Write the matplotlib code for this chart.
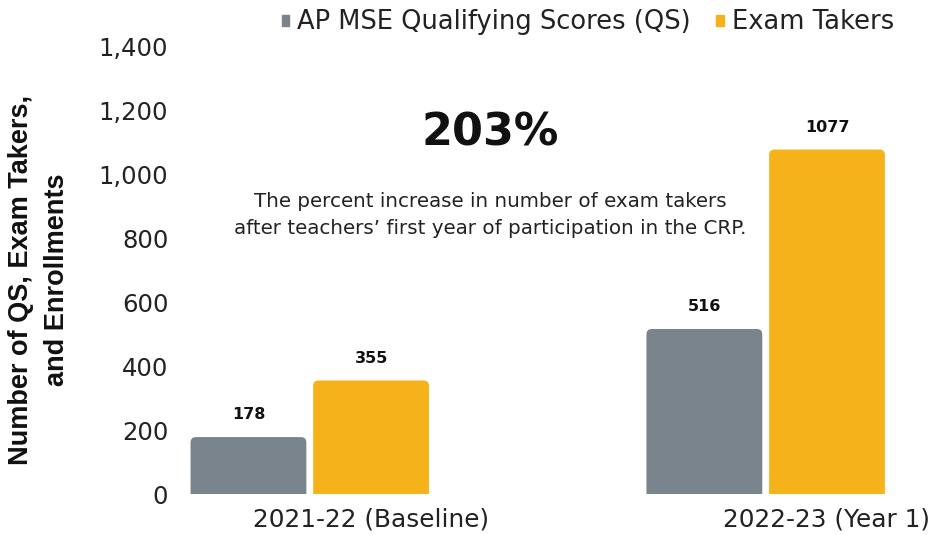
import matplotlib.pyplot as plt
from matplotlib.patches import FancyBboxPatch, Patch
import numpy as np

# data
categories = ["2021-22 (Baseline)", "2022-23 (Year 1)"]
series_names = ["AP MSE Qualifying Scores (QS)", "Exam Takers"]
qs_values = [178, 516]
taker_values = [355, 1077]
y_ticks = [0, 200, 400, 600, 800, 1000, 1200, 1400]

GRAY = "#7a848c"
YELLOW = "#f6b21a"
TEXT = "#222222"

fig = plt.figure(figsize=(9.3, 5.35), dpi=100)
ax = fig.add_axes([0.1914, 0.0766, 0.803, 0.837])
ax.set_xlim(-0.289, 1.349)
ax.set_ylim(0, 1400)

x = np.arange(len(categories))
w = 0.254
gap = 0.015
x_gray = x - w / 2 - gap / 2
x_yel = x + w / 2 + gap / 2

# rounded top corners: radius in x units, aspect converts to y units
r = 0.012
aspect = (1400 / 448.0) / (1 / 456.0)
for xs, vals, col in [(x_gray, qs_values, GRAY), (x_yel, taker_values, YELLOW)]:
    for xi, v in zip(xs, vals):
        p = FancyBboxPatch((xi - w / 2, -40), w, v + 40,
                           boxstyle=f"round,pad=0,rounding_size={r}",
                           mutation_aspect=aspect, fc=col, ec="none")
        ax.add_patch(p)
        ax.annotate(f"{v}", (xi, v), xytext=(0, 16), textcoords="offset points",
                    ha="center", va="center", fontsize=11.5, fontweight="bold",
                    color="#111111")

ax.set_yticks(y_ticks)
ax.set_yticklabels([f"{t:,}" for t in y_ticks], fontsize=17.5, color=TEXT)
ax.set_xticks(x_yel)
ax.set_xticklabels(categories, fontsize=17.8, color=TEXT)
ax.tick_params(length=0, axis="y", pad=7)
ax.tick_params(length=0, axis="x", pad=10)
for s in ax.spines.values():
    s.set_visible(False)

fig.text(0.042, 0.477, "Number of QS, Exam Takers,\nand Enrollments", rotation=90,
         ha="center", va="center", fontsize=19.5, fontweight="bold",
         family="Liberation Sans", color="#111111", linespacing=1.5)

ax.text(0.395, 1128, "203%", ha="center", va="center", fontsize=32,
        fontweight="bold", color="#111111")
ax.text(0.395, 873, "The percent increase in number of exam takers\n"
        "after teachers\u2019 first year of participation in the CRP.",
        ha="center", va="center", fontsize=14.3, color=TEXT, linespacing=1.55)

handles = [Patch(color=GRAY), Patch(color=YELLOW)]
leg = fig.legend(handles, series_names, loc="center", bbox_to_anchor=(0.632, 0.958),
                 ncol=2, frameon=False, fontsize=18.5, handlelength=0.3,
                 handleheight=0.3, handletextpad=0.3, columnspacing=1.0)
for t in leg.get_texts():
    t.set_color(TEXT)

fig.savefig("out.png", dpi=100)
